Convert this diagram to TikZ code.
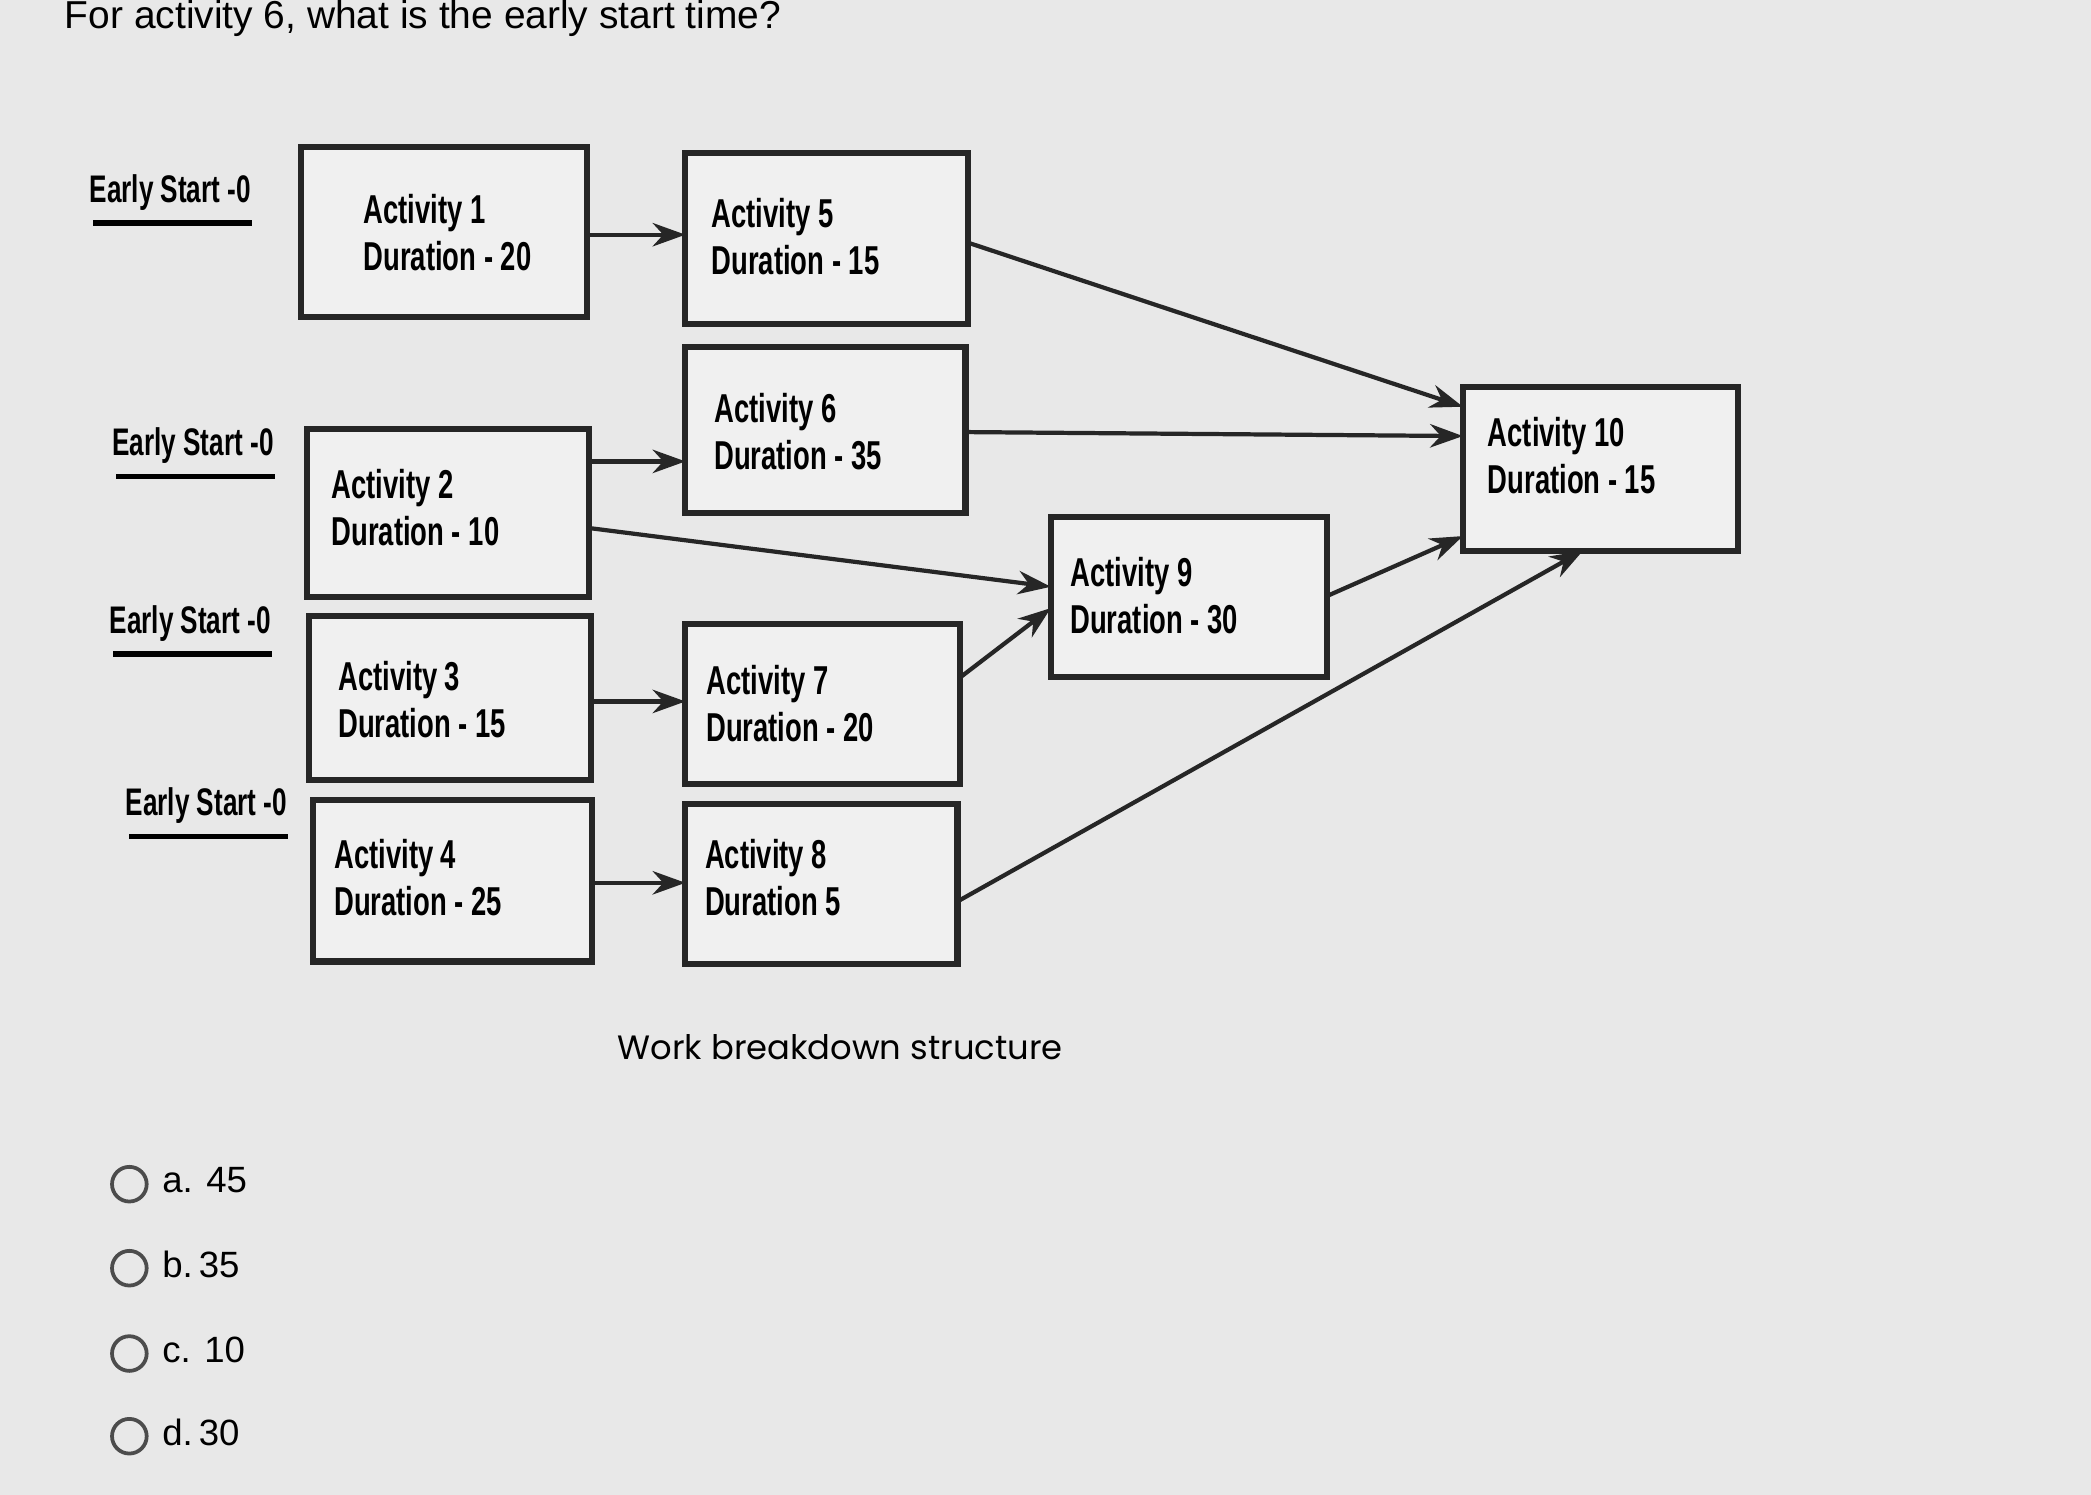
\documentclass[tikz,border=0pt]{standalone}
\usepackage{fontspec}
\setmainfont{Liberation Sans}
\newfontfamily\wbs{Poppins}
\usetikzlibrary{arrows.meta}
\newcommand{\cond}[1]{\scalebox{0.68}[1]{\bfseries #1}}
\newcommand{\bx}[5]{\node[box,minimum width=#4*0.01cm,minimum height=#5*0.01cm,anchor=north west] (#1) at (#2,#3) {};}
\begin{document}
\begin{tikzpicture}[x=0.01cm,y=-0.01cm,
  box/.style={draw=black!85,line width=1.3pt,fill=white!94!black,inner sep=0pt,outer sep=0pt},
  lbl/.style={anchor=north west,align=left,font=\fontsize{8.6}{10}\selectfont,inner sep=0pt},
  es/.style={anchor=south west,inner sep=1pt,font=\fontsize{8.2}{10}\selectfont},
  ar/.style={-{Stealth[length=7pt,width=5pt]},line width=0.9pt,black!85},
  opt/.style={anchor=west,font=\fontsize{7.8}{9}\selectfont,inner sep=0pt}]
\fill[black!9] (0,0) rectangle (1568,1121);
\useasboundingbox (0,0) rectangle (1568,1121);
\node[anchor=west,inner sep=0pt,font=\fontsize{8.3}{9}\selectfont] (t) at (48,14) {For activity 6, what is the early start time?};
% boxes
\bx{b1}{226}{110}{214}{128}
\bx{b5}{514}{115}{212}{128}
\bx{b6}{514}{260}{210}{125}
\bx{b2}{230}{322}{212}{126}
\bx{b3}{232}{462}{211}{123}
\bx{b7}{514}{468}{206}{120}
\bx{b4}{235}{600}{209}{121}
\bx{b8}{514}{603}{204}{120}
\bx{b9}{788}{388}{207}{120}
\bx{b10}{1097}{290}{206}{123}
% texts
\node[lbl] (l1) at (272,145) {\cond{Activity 1}\\\cond{Duration - 20}};
\node[lbl] (l5) at (533,148) {\cond{Activity 5}\\\cond{Duration - 15}};
\node[lbl] (l6) at (535,294) {\cond{Activity 6}\\\cond{Duration - 35}};
\node[lbl] (l2) at (248,351) {\cond{Activity 2}\\\cond{Duration - 10}};
\node[lbl] (l3) at (253,495) {\cond{Activity 3}\\\cond{Duration - 15}};
\node[lbl] (l7) at (529,498) {\cond{Activity 7}\\\cond{Duration - 20}};
\node[lbl] (l4) at (250,629) {\cond{Activity 4}\\\cond{Duration - 25}};
\node[lbl] (l8) at (528,629) {\cond{Activity 8}\\\cond{Duration 5}};
\node[lbl] (l9) at (802,417) {\cond{Activity 9}\\\cond{Duration - 30}};
\node[lbl] (l10) at (1115,312) {\cond{Activity 10}\\\cond{Duration - 15}};
% early start labels
\node[es] (e1) at (63,162) {\cond{Early Start -0}};
\node[es] (e2) at (80,352) {\cond{Early Start -0}};
\node[es] (e3) at (78,485) {\cond{Early Start -0}};
\node[es] (e4) at (90,622) {\cond{Early Start -0}};
\foreach \e in {e1,e2,e3,e4}{\draw[line width=1.2pt] ([xshift=2pt,yshift=-1.5pt]\e.south west) -- ([xshift=-1pt,yshift=-1.5pt]\e.south east);}
% arrows
\draw[ar] (b1.east |- 0,176) -- (b5.west |- 0,176);
\draw[ar] (b5.east |- 0,182) -- (b10.west |- 0,305);
\draw[ar] (b6.east |- 0,324) -- (b10.west |- 0,327);
\draw[ar] (b2.east |- 0,346) -- (b6.west |- 0,346);
\draw[ar] (b2.east |- 0,396) -- (b9.west |- 0,440);
\draw[ar] (b3.east |- 0,526) -- (b7.west |- 0,526);
\draw[ar] (b7.east |- 0,508) -- (b9.west |- 0,456);
\draw[ar] (b4.east |- 0,662) -- (b8.west |- 0,662);
\draw[ar] (b9.east |- 0,447) -- (b10.west |- 0,402);
\draw[ar] (b8.east |- 0,676) -- (b10.south -| 1187,0);
\node[inner sep=0pt,font=\wbs\fontsize{7.2}{9}\selectfont] (cap) at (630,785) {Work breakdown structure};
% options
\foreach \y/\t [count=\i] in {888/a. 45,951/b.\,35,1015/c. 10,1077/d.\,30}{
  \draw[black!70,line width=0.8pt] (97,\y) circle (13);
  \node[opt] (o\i) at (121,\y-3) {\t};}
\end{tikzpicture}
\end{document}
